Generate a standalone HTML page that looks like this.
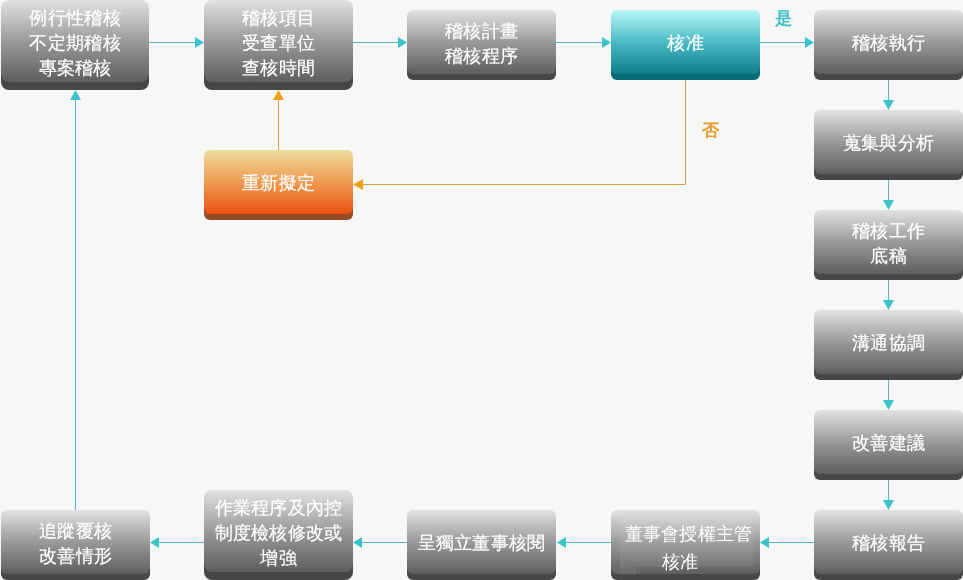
<!DOCTYPE html>
<html><head><meta charset="utf-8">
<style>
html,body{margin:0;padding:0;}
body{width:963px;height:580px;background:#f7f7f7;position:relative;overflow:hidden;font-family:"Liberation Sans",sans-serif;}
.b{position:absolute;width:149px;--bh:6px;--r:6px;}
.b.h90{--bh:8px;--r:8px;}
.b .k{position:absolute;left:0;right:0;top:50%;bottom:0;border-radius:var(--r);background:#474747;}
.b .g{position:absolute;left:0;top:0;right:0;bottom:var(--bh);border-radius:var(--r);background:linear-gradient(#e2e2e2,#9a9a9a 50%,#5e5e5e);}
.b .t{position:absolute;left:0;top:0;right:0;bottom:2px;display:flex;align-items:center;justify-content:center;text-align:center;color:#fff;font-size:18px;line-height:25px;letter-spacing:0.3px;padding-left:0.3px;-webkit-text-stroke:0.2px #fff;will-change:transform;}
.teal .k{background:#086b78;}
.teal .g{background:linear-gradient(#b8f8f6,#4cbac6 50%,#0e7e8c);}
.one{bottom:3px !important;}
.h90 .t{bottom:3px;}
.org .k{background:#964a26;}
.org .g{background:linear-gradient(#eedd9c,#ee9a50 50%,#ec5010);}
svg{position:absolute;left:0;top:0;}
.lbl{position:absolute;will-change:transform;font-weight:bold;font-size:16.5px;line-height:17px;}
</style></head><body>
<svg width="963" height="580" viewBox="0 0 963 580">
 <g stroke="#5ab6be" stroke-width="1" fill="none">
  <line x1="149" y1="42.5" x2="196" y2="42.5"/>
  <line x1="353" y1="42.5" x2="399" y2="42.5"/>
  <line x1="556" y1="42.5" x2="603" y2="42.5"/>
  <line x1="760" y1="42.5" x2="806" y2="42.5"/>
  <line x1="888.5" y1="80" x2="888.5" y2="101"/>
  <line x1="888.5" y1="180" x2="888.5" y2="201"/>
  <line x1="888.5" y1="280" x2="888.5" y2="301"/>
  <line x1="888.5" y1="380" x2="888.5" y2="401"/>
  <line x1="888.5" y1="480" x2="888.5" y2="501"/>
  <line x1="814" y1="542.5" x2="768" y2="542.5"/>
  <line x1="611" y1="542.5" x2="565" y2="542.5"/>
  <line x1="407" y1="542.5" x2="361" y2="542.5"/>
  <line x1="204" y1="542.5" x2="158" y2="542.5"/>
  <line x1="75.5" y1="510" x2="75.5" y2="99"/>
 </g>
 <g fill="#3cc4cc">
  <polygon points="195,37 204,42.5 195,48"/>
  <polygon points="398,37 407,42.5 398,48"/>
  <polygon points="602,37 611,42.5 602,48"/>
  <polygon points="805,37 814,42.5 805,48"/>
  <polygon points="883,100 894,100 888.5,110"/>
  <polygon points="883,200 894,200 888.5,210"/>
  <polygon points="883,300 894,300 888.5,310"/>
  <polygon points="883,400 894,400 888.5,410"/>
  <polygon points="883,500 894,500 888.5,510"/>
  <polygon points="769,537 760,542.5 769,548"/>
  <polygon points="566,537 557,542.5 566,548"/>
  <polygon points="362,537 353,542.5 362,548"/>
  <polygon points="159,537 150,542.5 159,548"/>
  <polygon points="70,100 81,100 75.5,90"/>
 </g>
 <g stroke="#dba044" stroke-width="1" fill="none">
  <polyline points="685.5,80 685.5,184.5 362,184.5"/>
  <line x1="278.5" y1="150" x2="278.5" y2="99"/>
 </g>
 <g fill="#f0a018">
  <polygon points="363,179 353,184.5 363,190"/>
  <polygon points="273,100 284,100 278.5,90"/>
 </g>
</svg>

<div class="b h90" style="left:1px;top:0;width:148px;height:90px"><div class="k"></div><div class="g"></div><div class="t">例行性稽核<br>不定期稽核<br>專案稽核</div></div>
<div class="b h90" style="left:204px;top:0;height:90px"><div class="k"></div><div class="g"></div><div class="t">稽核項目<br>受查單位<br>查核時間</div></div>
<div class="b" style="left:407px;top:10px;height:70px"><div class="k"></div><div class="g"></div><div class="t">稽核計畫<br>稽核程序</div></div>
<div class="b teal" style="left:611px;top:10px;height:70px"><div class="k"></div><div class="g"></div><div class="t one">核准</div></div>
<div class="b" style="left:814px;top:10px;height:70px"><div class="k"></div><div class="g"></div><div class="t one">稽核執行</div></div>
<div class="b" style="left:814px;top:110px;height:70px"><div class="k"></div><div class="g"></div><div class="t one">蒐集與分析</div></div>
<div class="b" style="left:814px;top:210px;height:70px"><div class="k"></div><div class="g"></div><div class="t">稽核工作<br>底稿</div></div>
<div class="b" style="left:814px;top:310px;height:70px"><div class="k"></div><div class="g"></div><div class="t one">溝通協調</div></div>
<div class="b" style="left:814px;top:410px;height:70px"><div class="k"></div><div class="g"></div><div class="t one">改善建議</div></div>
<div class="b" style="left:814px;top:510px;height:70px"><div class="k"></div><div class="g"></div><div class="t one">稽核報告</div></div>
<div class="b" style="left:611px;top:510px;height:70px"><div class="k"></div><div class="g"></div><div style="position:absolute;left:8.6px;top:6px;width:133px;height:51px;background:rgba(255,255,255,0.07)"></div><div style="position:absolute;left:8.6px;top:57px;width:16px;height:8px;background:rgba(255,255,255,0.06)"></div><div class="t" style="display:block;left:0;top:0;bottom:auto;padding:0;-webkit-text-stroke:0"><div style="position:absolute;left:12.6px;top:10px;width:130px;line-height:29px">董事會授權主管</div><div style="position:absolute;left:14px;top:37.5px;width:110px;line-height:29px">核准</div></div></div>
<div class="b" style="left:407px;top:510px;height:70px"><div class="k"></div><div class="g"></div><div class="t one">呈獨立董事核閱</div></div>
<div class="b h90" style="left:204px;top:490px;height:90px"><div class="k"></div><div class="g"></div><div class="t">作業程序及內控<br>制度檢核修改或<br>增強</div></div>
<div class="b" style="left:1px;top:510px;height:70px"><div class="k"></div><div class="g"></div><div class="t">追蹤覆核<br>改善情形</div></div>
<div class="b org" style="left:204px;top:150px;height:70px"><div class="k"></div><div class="g"></div><div class="t one">重新擬定</div></div>

<div class="lbl" style="left:775px;top:10px;color:#3ebfca">是</div>
<div class="lbl" style="left:702px;top:122px;color:#e89a2a">否</div>
</body></html>
